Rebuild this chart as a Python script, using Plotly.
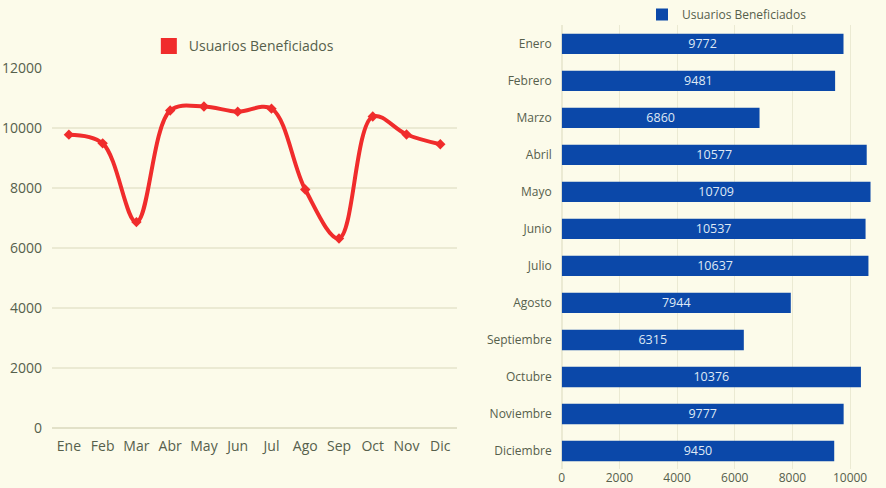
import plotly.graph_objects as go

meses_cortos = ["Ene", "Feb", "Mar", "Abr", "May", "Jun", "Jul", "Ago", "Sep", "Oct", "Nov", "Dic"]
meses = ["Enero", "Febrero", "Marzo", "Abril", "Mayo", "Junio", "Julio", "Agosto",
         "Septiembre", "Octubre", "Noviembre", "Diciembre"]
usuarios = [9772, 9481, 6860, 10577, 10709, 10537, 10637, 7944, 6315, 10376, 9777, 9450]
serie = "Usuarios Beneficiados"

BG = "#fcfbea"
TXT = "#56604c"
GRID = "#ebead3"
RED = "#f02c2c"
BLUE = "#0b48a9"
FONT = "Open Sans"

fig = go.Figure()

fig.add_trace(go.Scatter(
    x=meses_cortos, y=usuarios, mode="lines+markers",
    line=dict(color=RED, width=4, shape="spline", smoothing=1.0),
    marker=dict(symbol="diamond", size=8, color=RED),
    xaxis="x", yaxis="y", showlegend=False, name=serie,
))
fig.add_trace(go.Scatter(
    x=[None], y=[None], mode="markers", name=serie,
    marker=dict(symbol="square", size=16, color=RED),
    xaxis="x", yaxis="y", legend="legend",
))

fig.add_trace(go.Bar(
    y=meses, x=usuarios, orientation="h", name=serie,
    marker=dict(color=BLUE, line=dict(width=0)),
    width=0.55,
    text=[str(v) for v in usuarios], textposition="inside",
    insidetextanchor="middle", constraintext="none",
    textfont=dict(color="#dfe8f5", size=12.5, family=FONT),
    xaxis="x2", yaxis="y2", legend="legend2",
))

fig.update_layout(
    width=886, height=488,
    margin=dict(l=0, r=0, t=0, b=0),
    paper_bgcolor=BG, plot_bgcolor=BG,
    font=dict(family=FONT, color=TXT, size=13),
    xaxis=dict(domain=[0.0587, 0.516], type="category", range=[-0.5, 11.5],
               showgrid=False, zeroline=False, showline=False, automargin=False,
               ticks="", ticklabelstandoff=8, tickfont=dict(size=14, color=TXT), anchor="y"),
    yaxis=dict(domain=[0.123, 0.863], range=[0, 12000], dtick=2000, tickformat="d",
               showgrid=True, gridcolor=GRID, gridwidth=1.5, automargin=False,
               zeroline=True, zerolinecolor="#e2e1c8", zerolinewidth=1.5,
               ticks="", ticklabelstandoff=9, tickfont=dict(size=14, color=TXT),
               anchor="x"),
    xaxis2=dict(domain=[0.634, 0.999], range=[0, 11215], dtick=2000, tickformat="d",
                showgrid=True, gridcolor=GRID, gridwidth=1.2, automargin=False,
                zeroline=True, zerolinecolor=GRID,
                ticks="", tickfont=dict(size=12, color=TXT), anchor="y2"),
    yaxis2=dict(domain=[0.038, 0.95], type="category", autorange="reversed",
                showgrid=False, ticks="", ticklabelstandoff=9, automargin=False,
                tickfont=dict(size=12, color=TXT), anchor="x2"),
    legend=dict(x=0.168, y=0.905, xanchor="left", yanchor="middle",
                orientation="h", bgcolor="rgba(0,0,0,0)",
                font=dict(size=14, color=TXT, family=FONT)),
    legend2=dict(x=0.7246, y=0.973, xanchor="left", yanchor="middle",
                 orientation="h", bgcolor="rgba(0,0,0,0)",
                 font=dict(size=12, color=TXT, family=FONT)),
)

fig.write_html("out.html", config={"displayModeBar": False},
               post_script="document.body.style.margin='0';")
